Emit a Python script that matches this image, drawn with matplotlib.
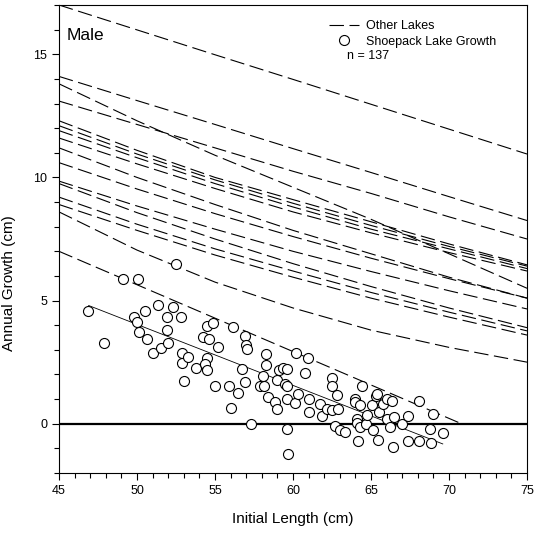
import matplotlib
matplotlib.use('Agg')
import matplotlib.pyplot as plt
from matplotlib.lines import Line2D
from matplotlib.ticker import MultipleLocator
import numpy as np

plt.rcParams['font.family'] = ['Liberation Sans', 'DejaVu Sans']

# ── 数据 ────────────────────────────────────────────────
# other lakes: growth read at these initial lengths
lake_x = [45, 50, 55, 60, 65, 70, 75]
other_lakes = [
    [17.0, 15.99, 14.98, 13.98, 12.97, 11.96, 10.95],
    [14.1, 13.12, 12.15, 11.17, 10.2, 9.22, 8.25],
    [13.8, 12.3, 10.9, 9.6, 8.3, 6.9, 5.5],
    [13.1, 12.15, 11.2, 10.25, 9.35, 8.4, 7.5],
    [12.3, 11.1, 10.0, 9.1, 8.2, 7.3, 6.45],
    [12.1, 10.95, 9.9, 8.95, 8.05, 7.2, 6.4],
    [11.9, 10.8, 9.75, 8.8, 7.9, 7.1, 6.3],
    [11.6, 10.55, 9.55, 8.6, 7.75, 6.95, 6.2],
    [11.2, 10.0, 8.9, 7.85, 6.9, 5.95, 5.1],
    [10.6, 9.53, 8.53, 7.6, 6.72, 5.89, 5.1],
    [9.85, 8.84, 7.9, 7.0, 6.18, 5.4, 4.66],
    [9.75, 8.57, 7.5, 6.5, 5.57, 4.7, 3.9],
    [9.2, 8.1, 7.1, 6.2, 5.33, 4.53, 3.77],
    [8.9, 7.85, 6.85, 5.95, 5.1, 4.33, 3.6],
    [8.6, 7.05, 5.75, 4.7, 3.8, 3.1, 2.5],
]
# the one short lake curve that reaches zero
short_lake_x = [45, 70.8]
short_lake_y = [7.0, 0.0]

# Shoepack Lake (initial length, annual growth)
shoepack_len = [
    46.88, 47.88, 49.08, 50.08, 49.81, 49.98, 50.51, 50.1, 50.66, 51.0,
    51.52, 51.37, 51.9, 51.9, 52.0, 52.29, 52.48, 52.8, 52.9, 52.86,
    53.29, 53.01, 53.78, 54.21, 54.47, 54.89, 54.64, 54.51, 54.36, 54.51,
    55.22, 55.0, 55.92, 56.0, 56.17, 56.5, 56.71, 56.93, 57.0, 57.07,
    56.93, 57.3, 57.9, 58.15, 58.1, 58.3, 58.3, 58.4, 58.85, 59.0,
    59.0, 59.1, 59.35, 59.5, 59.6, 59.6, 59.7,
    59.6, 60.19, 60.98, 60.77, 59.6, 60.13, 60.35, 61.0, 61.0, 61.73,
    61.84, 62.16, 62.48, 62.48, 62.48, 62.8, 62.9, 62.7, 63.0, 63.33,
    64.18, 64.4, 63.97, 64.0, 64.29, 64.1, 64.1, 64.29, 64.67, 64.76,
    65.04, 65.15, 65.32, 65.36, 65.53, 65.47, 65.8, 66.0, 66.0, 66.2,
    66.4, 66.33, 66.5, 66.97, 67.4, 67.4, 68.09, 68.1, 68.8, 68.95,
    68.83, 69.6,
]
shoepack_growth = [
    4.56, 3.29, 5.89, 5.89, 4.33, 4.15, 4.56, 3.74, 3.43, 2.86,
    3.06, 4.84, 4.33, 3.81, 3.29, 4.74, 6.48, 4.33, 2.88, 2.47,
    2.69, 1.73, 2.28, 3.54, 3.98, 4.09, 3.43, 2.65, 2.42, 2.17,
    3.10, 1.54, 1.54, 0.64, 3.92, 1.26, 2.24, 3.57, 3.2, 3.05,
    1.69, 0.0, 1.54, 1.55, 1.93, 2.83, 2.38, 1.08, 0.87, 0.6,
    1.77, 2.17, 2.28, 1.6, 1.0, -0.22, -1.22,
    2.24, 2.86, 2.65, 2.06, 1.52, 0.86, 1.19, 1.02, 0.46, 0.81,
    0.33, 0.6, 0.55, 1.86, 1.52, 1.15, 0.6, -0.08, -0.26, -0.32,
    -0.72, 1.52, 1.02, 0.87, 0.76, 0.19, 0.01, -0.14, 0.0, 0.37,
    0.76, -0.26, 1.11, 1.2, 0.46, -0.67, 0.81, 1.02, 0.19, -0.14,
    -0.94, 0.93, 0.26, -0.01, 0.33, -0.69, 0.93, -0.72, -0.22, 0.4,
    -0.8, -0.36,
]
# Shoepack fitted line end points
fit_x = [46.9, 69.6]
fit_y = [4.8, -0.82]

x_ticks = [45, 50, 55, 60, 65, 70, 75]
y_ticks = [0, 5, 10, 15]

# ── 绘图 ────────────────────────────────────────────────
fig = plt.figure(figsize=(5.34, 5.35), dpi=100)
ax = fig.add_axes([59 / 534, 1 - 473 / 535, 468 / 534, 468 / 535])

dash = (13, 5)
for ys in other_lakes:
    ax.plot(lake_x, ys, color='black', linewidth=0.8, dashes=dash)
ax.plot(short_lake_x, short_lake_y, color='black', linewidth=0.8, dashes=dash)

ax.axhline(0, color='black', linewidth=1.6, zorder=1)
ax.plot(fit_x, fit_y, color='black', linewidth=0.6)
ax.scatter(shoepack_len, shoepack_growth, s=52, facecolors='white',
           edgecolors='black', linewidths=0.8, zorder=3)

ax.set_xlim(45, 75)
ax.set_ylim(-2, 17)
ax.set_xticks(x_ticks)
ax.set_yticks(y_ticks)
ax.xaxis.set_minor_locator(MultipleLocator(1))
ax.yaxis.set_minor_locator(MultipleLocator(1))
ax.tick_params(which='major', direction='out', length=5, width=0.8, labelsize=9)
ax.tick_params(which='minor', direction='out', length=3.5, width=0.8)
for sp in ax.spines.values():
    sp.set_linewidth(0.8)

ax.set_xlabel('Initial Length (cm)', fontsize=11, labelpad=11)
ax.set_ylabel('Annual Growth (cm)', fontsize=11, labelpad=5)
ax.yaxis.set_label_coords(-0.092, 0.406)

ax.text(0.017, 0.934, 'Male', transform=ax.transAxes, fontsize=12.5,
        va='center', ha='left')

handles = [
    Line2D([], [], color='black', linewidth=0.8, dashes=dash),
    Line2D([], [], linestyle='none', marker='o', markersize=7.2,
           markerfacecolor='white', markeredgecolor='black', markeredgewidth=0.8),
]
ax.legend(handles, ['Other Lakes', 'Shoepack Lake Growth'], loc='upper left',
          bbox_to_anchor=(0.577, 0.968), frameon=False, fontsize=9,
          handlelength=2.4, handletextpad=0.55, borderpad=0, borderaxespad=0,
          labelspacing=0.3)
ax.text(0.615, 0.892, 'n = 137', transform=ax.transAxes, fontsize=9,
        va='center', ha='left')

fig.savefig('out.png', dpi=100)
